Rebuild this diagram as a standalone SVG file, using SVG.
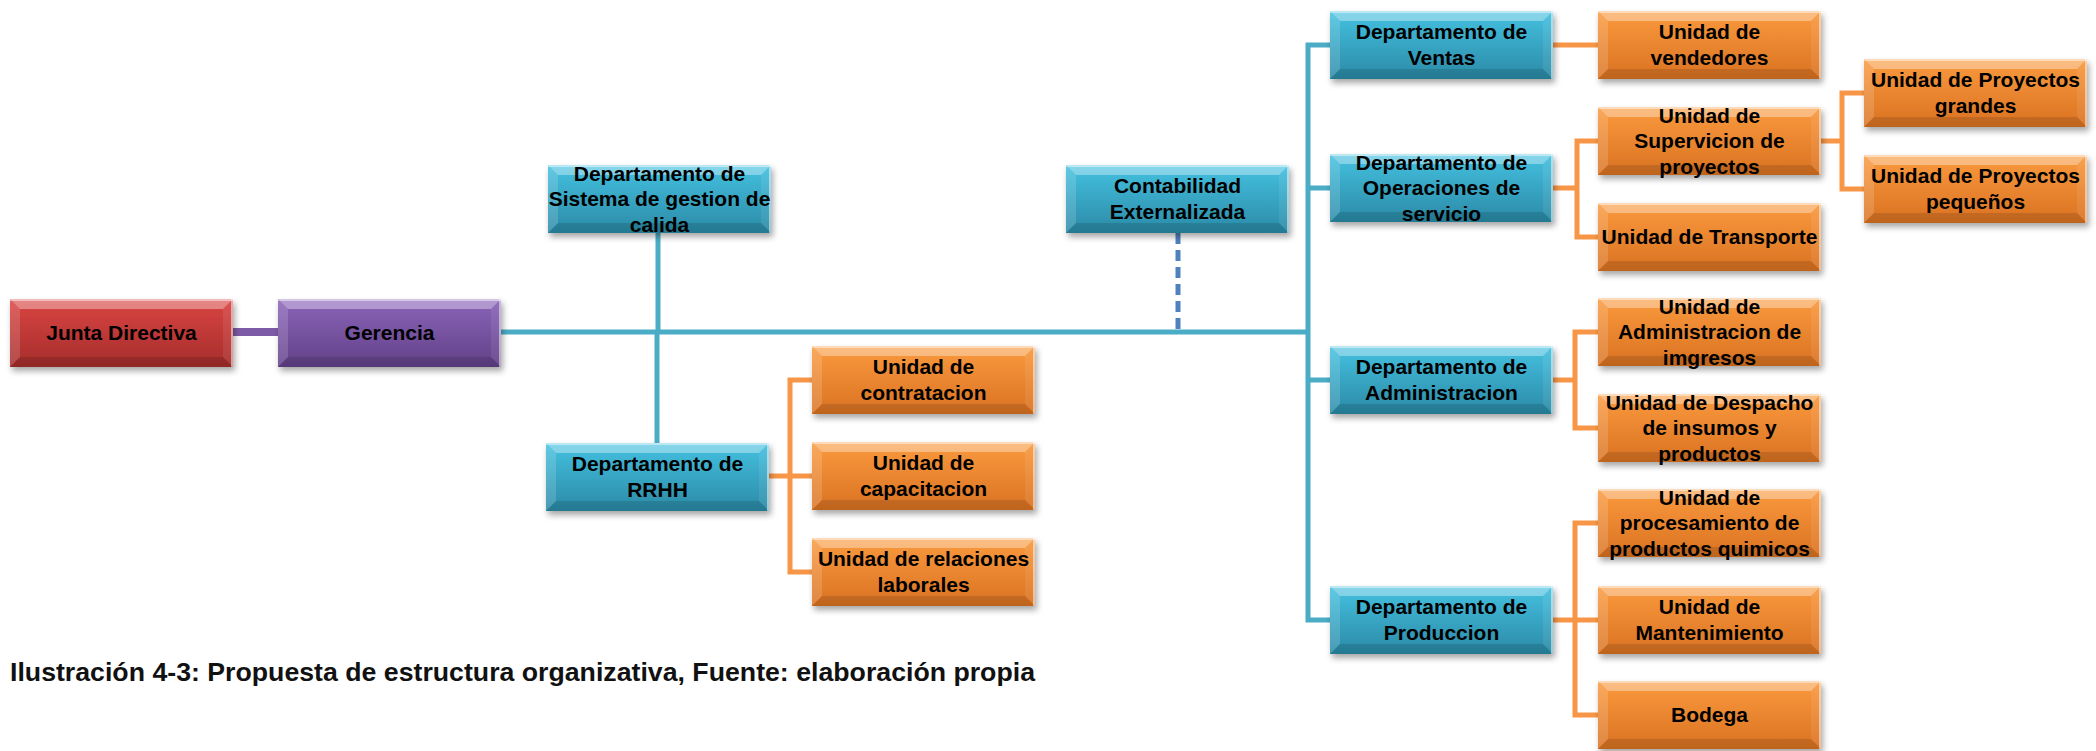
<svg xmlns="http://www.w3.org/2000/svg" xmlns:xlink="http://www.w3.org/1999/xlink" width="2096" height="751" viewBox="0 0 2096 751">
<style>
.face{filter:url(#sh)}
.blue{fill:url(#gBlue)}
.orange{fill:url(#gOrange)}
.red{fill:url(#gRed)}
.purple{fill:url(#gPurple)}
.lbl{font-family:"Liberation Sans",Arial,sans-serif;font-weight:bold;font-size:21px;fill:#000;text-anchor:middle}
.cb{fill:none;stroke:#4bacc6;stroke-width:5}
.co{fill:none;stroke:#f79646;stroke-width:5}
.cap{font-family:"Liberation Sans",Arial,sans-serif;font-weight:bold;font-size:26px;fill:#111}
</style>
<defs>
<linearGradient id="gBlue" x1="0" y1="0" x2="0" y2="1"><stop offset="0" stop-color="#45c1e1"/><stop offset="1" stop-color="#2a8aa6"/></linearGradient>
<linearGradient id="gOrange" x1="0" y1="0" x2="0" y2="1"><stop offset="0" stop-color="#fa9a3e"/><stop offset="1" stop-color="#da7222"/></linearGradient>
<linearGradient id="gRed" x1="0" y1="0" x2="0" y2="1"><stop offset="0" stop-color="#da4543"/><stop offset="1" stop-color="#a52d2b"/></linearGradient>
<linearGradient id="gPurple" x1="0" y1="0" x2="0" y2="1"><stop offset="0" stop-color="#8b64b9"/><stop offset="1" stop-color="#624188"/></linearGradient>
<filter id="sh" x="-10%" y="-20%" width="125%" height="150%"><feDropShadow dx="2" dy="4" stdDeviation="3" flood-color="#000" flood-opacity="0.35"/></filter>
<g id="bev">
<polygon points="0,0 223,0 213,10 10,10" fill="#fff" opacity="0.35"/>
<polygon points="0,0 10,10 10,58 0,68" fill="#fff" opacity="0.15"/>
<polygon points="223,0 223,68 213,58 213,10" fill="#fff" opacity="0.08"/>
<polygon points="0,68 10,58 213,58 223,68" fill="#000" opacity="0.12"/>
<line x1="0" y1="1" x2="223" y2="1" stroke="#fff" stroke-opacity="0.45" stroke-width="2"/>
<line x1="222" y1="0" x2="222" y2="68" stroke="#fff" stroke-opacity="0.5" stroke-width="2"/>
</g>
</defs>
<rect width="2096" height="751" fill="#fff"/>
<g id="connectors">
<path d="M233,332 H278" fill="none" stroke="#7e5ba6" stroke-width="8"/>
<path d="M501,332 H1308" class="cb" stroke-width="7"/>
<path d="M658,233 V332" class="cb"/>
<path d="M657,332 V443" class="cb"/>
<path d="M1330,45 H1308 V620 H1330 M1308,188 H1330 M1308,380 H1330" class="cb"/>
<path d="M1178,233 V329" fill="none" stroke="#4f81bd" stroke-width="5" stroke-dasharray="11 6"/>
<path d="M769,476 H812 M812,380 H790 V572 H812" class="co"/>
<path d="M1553,45 H1598" class="co"/>
<path d="M1553,188 H1577 M1598,141 H1577 V237 H1598" class="co"/>
<path d="M1821,141 H1842 M1864,93 H1842 V189 H1864" class="co"/>
<path d="M1553,380 H1575 M1598,332 H1575 V428 H1598" class="co"/>
<path d="M1553,620 H1598 M1598,523 H1575 V715 H1598" class="co"/>
</g>
<g id="n-junta" transform="translate(10,299)"><rect class="face red" width="223" height="68"/><use href="#bev"/><text class="lbl" x="111.5" y="41">Junta Directiva</text></g>
<g id="n-gerencia" transform="translate(278,299)"><rect class="face purple" width="223" height="68"/><use href="#bev"/><text class="lbl" x="111.5" y="41">Gerencia</text></g>
<g id="n-sistema" transform="translate(548,165)"><rect class="face blue" width="223" height="68"/><use href="#bev"/><text class="lbl" x="111.5" y="15.5"><tspan x="111.5">Departamento de</tspan><tspan x="111.5" dy="25.5">Sistema de gestion de</tspan><tspan x="111.5" dy="25.5">calida</tspan></text></g>
<g id="n-rrhh" transform="translate(546,443)"><rect class="face blue" width="223" height="68"/><use href="#bev"/><text class="lbl" x="111.5" y="28.25"><tspan x="111.5">Departamento de</tspan><tspan x="111.5" dy="25.5">RRHH</tspan></text></g>
<g id="n-contratacion" transform="translate(812,346)"><rect class="face orange" width="223" height="68"/><use href="#bev"/><text class="lbl" x="111.5" y="28.25"><tspan x="111.5">Unidad de</tspan><tspan x="111.5" dy="25.5">contratacion</tspan></text></g>
<g id="n-capacitacion" transform="translate(812,442)"><rect class="face orange" width="223" height="68"/><use href="#bev"/><text class="lbl" x="111.5" y="28.25"><tspan x="111.5">Unidad de</tspan><tspan x="111.5" dy="25.5">capacitacion</tspan></text></g>
<g id="n-relaciones" transform="translate(812,538)"><rect class="face orange" width="223" height="68"/><use href="#bev"/><text class="lbl" x="111.5" y="28.25"><tspan x="111.5">Unidad de relaciones</tspan><tspan x="111.5" dy="25.5">laborales</tspan></text></g>
<g id="n-contabilidad" transform="translate(1066,165)"><rect class="face blue" width="223" height="68"/><use href="#bev"/><text class="lbl" x="111.5" y="28.25"><tspan x="111.5">Contabilidad</tspan><tspan x="111.5" dy="25.5">Externalizada</tspan></text></g>
<g id="n-ventas" transform="translate(1330,11)"><rect class="face blue" width="223" height="68"/><use href="#bev"/><text class="lbl" x="111.5" y="28.25"><tspan x="111.5">Departamento de</tspan><tspan x="111.5" dy="25.5">Ventas</tspan></text></g>
<g id="n-operaciones" transform="translate(1330,154)"><rect class="face blue" width="223" height="68"/><use href="#bev"/><text class="lbl" x="111.5" y="15.5"><tspan x="111.5">Departamento de</tspan><tspan x="111.5" dy="25.5">Operaciones de</tspan><tspan x="111.5" dy="25.5">servicio</tspan></text></g>
<g id="n-administracion" transform="translate(1330,346)"><rect class="face blue" width="223" height="68"/><use href="#bev"/><text class="lbl" x="111.5" y="28.25"><tspan x="111.5">Departamento de</tspan><tspan x="111.5" dy="25.5">Administracion</tspan></text></g>
<g id="n-produccion" transform="translate(1330,586)"><rect class="face blue" width="223" height="68"/><use href="#bev"/><text class="lbl" x="111.5" y="28.25"><tspan x="111.5">Departamento de</tspan><tspan x="111.5" dy="25.5">Produccion</tspan></text></g>
<g id="n-vendedores" transform="translate(1598,11)"><rect class="face orange" width="223" height="68"/><use href="#bev"/><text class="lbl" x="111.5" y="28.25"><tspan x="111.5">Unidad de</tspan><tspan x="111.5" dy="25.5">vendedores</tspan></text></g>
<g id="n-supervicion" transform="translate(1598,107)"><rect class="face orange" width="223" height="68"/><use href="#bev"/><text class="lbl" x="111.5" y="15.5"><tspan x="111.5">Unidad de</tspan><tspan x="111.5" dy="25.5">Supervicion de</tspan><tspan x="111.5" dy="25.5">proyectos</tspan></text></g>
<g id="n-transporte" transform="translate(1598,203)"><rect class="face orange" width="223" height="68"/><use href="#bev"/><text class="lbl" x="111.5" y="41">Unidad de Transporte</text></g>
<g id="n-imgresos" transform="translate(1598,298)"><rect class="face orange" width="223" height="68"/><use href="#bev"/><text class="lbl" x="111.5" y="15.5"><tspan x="111.5">Unidad de</tspan><tspan x="111.5" dy="25.5">Administracion de</tspan><tspan x="111.5" dy="25.5">imgresos</tspan></text></g>
<g id="n-despacho" transform="translate(1598,394)"><rect class="face orange" width="223" height="68"/><use href="#bev"/><text class="lbl" x="111.5" y="15.5"><tspan x="111.5">Unidad de Despacho</tspan><tspan x="111.5" dy="25.5">de insumos y</tspan><tspan x="111.5" dy="25.5">productos</tspan></text></g>
<g id="n-procesamiento" transform="translate(1598,489)"><rect class="face orange" width="223" height="68"/><use href="#bev"/><text class="lbl" x="111.5" y="15.5"><tspan x="111.5">Unidad de</tspan><tspan x="111.5" dy="25.5">procesamiento de</tspan><tspan x="111.5" dy="25.5">productos quimicos</tspan></text></g>
<g id="n-mantenimiento" transform="translate(1598,586)"><rect class="face orange" width="223" height="68"/><use href="#bev"/><text class="lbl" x="111.5" y="28.25"><tspan x="111.5">Unidad de</tspan><tspan x="111.5" dy="25.5">Mantenimiento</tspan></text></g>
<g id="n-bodega" transform="translate(1598,681)"><rect class="face orange" width="223" height="68"/><use href="#bev"/><text class="lbl" x="111.5" y="41">Bodega</text></g>
<g id="n-grandes" transform="translate(1864,59)"><rect class="face orange" width="223" height="68"/><use href="#bev"/><text class="lbl" x="111.5" y="28.25"><tspan x="111.5">Unidad de Proyectos</tspan><tspan x="111.5" dy="25.5">grandes</tspan></text></g>
<g id="n-pequenos" transform="translate(1864,155)"><rect class="face orange" width="223" height="68"/><use href="#bev"/><text class="lbl" x="111.5" y="28.25"><tspan x="111.5">Unidad de Proyectos</tspan><tspan x="111.5" dy="25.5">pequeños</tspan></text></g>
<text class="cap" x="10" y="681" textLength="1025" lengthAdjust="spacingAndGlyphs">Ilustración 4-3: Propuesta de estructura organizativa, Fuente: elaboración propia</text>
</svg>
